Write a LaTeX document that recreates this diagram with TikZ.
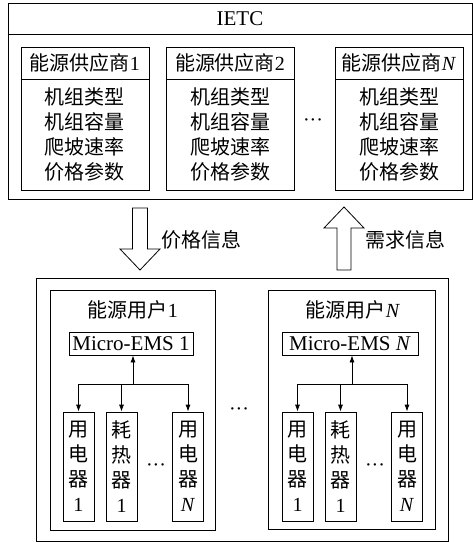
\documentclass[tikz,border=0pt]{standalone}
\usepackage{fontspec}
\setmainfont{Liberation Serif}
\newfontfamily\cjk{Noto Sans CJK SC}
\usetikzlibrary{arrows.meta}
\newcommand{\mydots}{\textperiodcentered\textperiodcentered\textperiodcentered}
\begin{document}
\begin{tikzpicture}[x=1pt,y=-1pt,
  every node/.style={font=\fontsize{20}{25}\selectfont},
  frame/.style={draw,line width=0.8pt,inner sep=0pt},
  hdr/.style={frame,minimum width=128pt,minimum height=32pt},
  bodybox/.style={frame,minimum width=128pt,minimum height=111pt,align=center},
  dev/.style={frame,minimum width=31pt,minimum height=109pt,align=center},
  blockarrow/.style={draw,line width=0.8pt,fill=white},
  arr/.style={line width=0.8pt,-{Latex[length=7pt,width=5pt]}},
  ln/.style={line width=0.8pt}]
\useasboundingbox (0,0) rectangle (473,542);

% IETC
\node[frame,minimum width=464pt,minimum height=196pt] (ietc) at (240,101) {};
\node[font=\fontsize{21}{25}\selectfont] (ietct) at (240,18.5) {IETC};
\coordinate (tl) at (8,34);
\draw[ln] (ietc.west |- tl) -- (ietc.east |- tl);

\foreach \i/\x/\lab in {1/85/{1}, 2/230/{2}, 3/399/{\textit{N}}} {
  \node[hdr] (s\i h) at (\x,63) {{\cjk 能源供应商}\lab};
  \node[bodybox] (s\i b) at (\x,134.5) {\cjk 机组类型\\\cjk 机组容量\\\cjk 爬坡速率\\\cjk 价格参数};
}
\node (sdots) at (313,123) {\mydots};

% block arrows
\draw[blockarrow] (132.5,208) -- (147.5,208) -- (147.5,249) -- (160,249) -- (140,270) -- (120,249) -- (132.5,249) -- cycle;
\node[anchor=west] (plab) at (158,240) {\cjk 价格信息};
\draw[blockarrow] (337,270) -- (351,270) -- (351,228) -- (364,228) -- (344,207) -- (324,228) -- (337,228) -- cycle;
\node[anchor=west] (dlab) at (362,240) {\cjk 需求信息};

% users
\node[frame,minimum width=412pt,minimum height=263pt] (users) at (242,409.5) {};
\node[frame,minimum width=165pt,minimum height=240pt] (u1) at (132.5,410) {};
\node[frame,minimum width=167pt,minimum height=239pt] (u2) at (351.5,409.5) {};
\node (u1l) at (133,310) {{\cjk 能源用户}1};
\node (u2l) at (353,310) {{\cjk 能源用户}\textit{N}};
\node[frame,minimum width=124pt,minimum height=23pt,font=\fontsize{21}{25}\selectfont] (m1) at (131,343.5) {Micro-EMS 1};
\node[frame,minimum width=136pt,minimum height=23pt,font=\fontsize{21}{25}\selectfont] (m2) at (350,343.5) {Micro-EMS \textit{N}};
\node (udots) at (239,412) {\mydots};

% devices user 1
\node[dev] (d11) at (78.5,466.5) {\cjk 用\\\cjk 电\\\cjk 器\\1};
\node[dev] (d12) at (121.5,466.5) {\cjk 耗\\\cjk 热\\\cjk 器\\1};
\node[dev] (d13) at (188,466.5) {\cjk 用\\\cjk 电\\\cjk 器\\\textit{N}};
\node (ddots1) at (156,468) {\mydots};
% devices user N
\node[dev] (d21) at (297.5,466.5) {\cjk 用\\\cjk 电\\\cjk 器\\1};
\node[dev] (d22) at (340.5,466.5) {\cjk 耗\\\cjk 热\\\cjk 器\\1};
\node[dev] (d23) at (407,466.5) {\cjk 用\\\cjk 电\\\cjk 器\\\textit{N}};
\node (ddots2) at (375,468) {\mydots};

% buses
\coordinate (b1) at (133,384);
\coordinate (b2) at (352,384);
\draw[arr] (b1) -- (b1 |- m1.south);
\draw[ln] (d11 |- b1) -- (d13 |- b1);
\foreach \d in {d11,d12,d13} \draw[arr] (\d |- b1) -- (\d.north);
\draw[arr] (b2) -- (b2 |- m2.south);
\draw[ln] (d21 |- b2) -- (d23 |- b2);
\foreach \d in {d21,d22,d23} \draw[arr] (\d |- b2) -- (\d.north);
\end{tikzpicture}
\end{document}
